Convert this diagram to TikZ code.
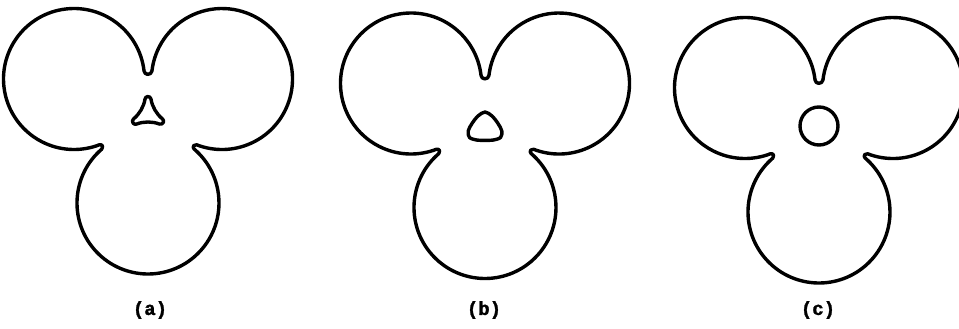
\documentclass[tikz,border=0pt]{standalone}
\usepackage{fontspec}
\newfontfamily\labelfont{Liberation Mono}[BoldFeatures={FakeBold=1.5}]

\begin{document}
\begin{tikzpicture}[x=0.5pt, y=0.5pt,
  outline/.style={line width=1.7pt, line join=round},
  caption/.style={font=\labelfont\bfseries\fontsize{9.5}{11}\selectfont},
  trefoil/.pic={
    % three round lobes, joined at three narrow notches
    \draw[outline] (0,-86) ++(130.5:71)
      arc[start angle=130.5, end angle=409.5, radius=71]
      arc[start angle=229.5, end angle=68.91, radius=2.5]
      arc[start angle=248.91, end angle=533.36, radius=70.5]
      arc[start angle=353.36, end angle=186.64, radius=4]
      arc[start angle=6.64, end angle=291.09, radius=70.5]
      arc[start angle=111.09, end angle=-49.5, radius=2.5]
      -- cycle;
  }]
  \useasboundingbox (0,0) rectangle (959,328);

  \pic at (148,211) {trefoil};
  \pic at (485,206.5) {trefoil};
  \pic at (819,202) {trefoil};

  % holes
  \draw[outline, shift={(148,214)}] (90:14.5) ++(9.69:3)
    arc[start angle=9.69, end angle=170.31, radius=3]
    arc[start angle=350.31, end angle=309.69, radius=33.17]
    arc[start angle=129.69, end angle=290.31, radius=3]
    arc[start angle=110.31, end angle=69.69, radius=33.17]
    arc[start angle=249.69, end angle=410.31, radius=3]
    arc[start angle=230.31, end angle=189.69, radius=33.17]
    -- cycle;
  \draw[outline, shift={(485,206.5)}] plot[smooth cycle, tension=0.55]
    coordinates {(0,9.5) (7,5.5) (13,-2) (16.8,-9.5) (15.5,-16) (8,-18.6)
      (0,-18.8) (-8,-18.6) (-15.5,-16) (-16.8,-9.5) (-13,-2) (-7,5.5)};
  \draw[outline] (819,202) circle[radius=19];

  \node[caption] (la) at (150,18) {(a)};
  \node[caption] (lb) at (484,18) {(b)};
  \node[caption] (lc) at (818,18) {(c)};
\end{tikzpicture}
\end{document}
